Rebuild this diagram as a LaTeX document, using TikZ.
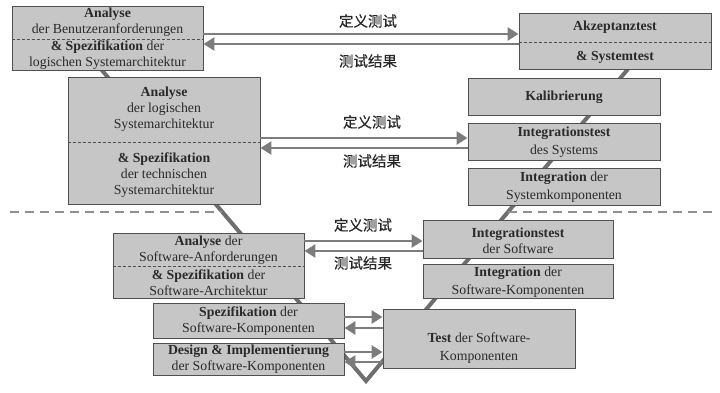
\documentclass[tikz,border=0pt]{standalone}
\usepackage{fontspec}
\setmainfont{Liberation Serif}
\newfontfamily\cjk[FakeBold=0.4]{Noto Sans CJK SC}
\usetikzlibrary{arrows.meta}
\definecolor{boxfill}{HTML}{C6C6C6}
\definecolor{boxline}{HTML}{505050}
\definecolor{arrgray}{HTML}{7C7C7C}
\definecolor{vgray}{HTML}{6E6E6E}
\definecolor{txt}{HTML}{2A2A2A}
\begin{document}
\begin{tikzpicture}[x=1pt,y=-1pt,
  box/.style={draw=boxline, fill=boxfill, line width=0.9pt, inner sep=0pt},
  txtn/.style={text=txt, align=center, font=\fontsize{13.8}{16}\selectfont, inner sep=0pt},
  txtw/.style={text=txt, align=center, font=\fontsize{13.8}{17.5}\selectfont, inner sep=0pt},
  cjkl/.style={text=black!85, font=\cjk\fontsize{14.5}{16}\selectfont, inner sep=0pt},
  arr/.style={draw=arrgray, line width=2.6pt, -{Triangle[length=11pt,width=13pt]}},
  divider/.style={draw=boxline, line width=0.7pt, dash pattern=on 3pt off 2pt},
  sepline/.style={draw=arrgray!85, line width=2.2pt, dash pattern=on 9pt off 6pt},
  vline/.style={draw=vgray, line width=4pt}]
\fill[white] (0,0) rectangle (720,393);
\useasboundingbox (0,0) rectangle (720,393);

% V line and separator
\coordinate (vtl) at (100,68);
\coordinate (vb) at (366,381);
\coordinate (vtr) at (628,69);
\draw[vline] (vtl) -- (vb) -- (vtr);
\coordinate (sl1) at (10,212);
\coordinate (sl2) at (222,212);
\coordinate (sr1) at (508,212);
\coordinate (sr2) at (712,212);
\draw[sepline] (sl1) -- (sl2);
\draw[sepline] (sr1) -- (sr2);

% left boxes
\node[box, minimum width=191, minimum height=64] (b1) at (107.5,38) {};
\draw[divider] (b1.west |- 0,39) -- (b1.east |- 0,39);
\node[txtn] (t1a) at (107.5,22.5) {\textbf{Analyse}\\der Benutzeranforderungen};
\node[txtn] (t1b) at (107.5,55.5) {\textbf{\& Spezifikation} der\\logischen Systemarchitektur};

\node[box, minimum width=192, minimum height=127] (b3) at (164,140.5) {};
\draw[divider] (b3.west |- 0,142) -- (b3.east |- 0,142);
\node[txtn] (t3a) at (164,109) {\textbf{Analyse}\\der logischen\\Systemarchitektur};
\node[txtn] (t3b) at (164,175) {\textbf{\& Spezifikation}\\der technischen\\Systemarchitektur};

\node[box, minimum width=191, minimum height=65] (bsw) at (208.5,265.5) {};
\draw[divider] (bsw.west |- 0,266) -- (bsw.east |- 0,266);
\node[txtn] (tswa) at (208.5,250) {\textbf{Analyse} der\\Software-Anforderungen};
\node[txtn] (tswb) at (208.5,283) {\textbf{\& Spezifikation} der\\Software-Architektur};

\node[box, minimum width=191, minimum height=35] (bsp) at (248.5,320.5) {};
\node[txtn] (tsp) at (248.5,321.5) {\textbf{Spezifikation} der\\Software-Komponenten};
\node[box, minimum width=191, minimum height=32] (bde) at (248.5,359) {};
\node[txtn] (tde) at (248.5,359.5) {\textbf{Design \& Implementierung}\\der Software-Komponenten};

% right boxes
\node[box, minimum width=192, minimum height=56] (b2) at (615,41) {};
\draw[divider] (b2.west |- 0,42) -- (b2.east |- 0,42);
\node[txtn] (t2a) at (615,27) {\textbf{Akzeptanztest}};
\node[txtn] (t2b) at (615,57) {\textbf{\& Systemtest}};

\node[box, minimum width=192, minimum height=37] (bka) at (564,96.5) {};
\node[txtn] (tka) at (564,97) {\textbf{Kalibrierung}};
\node[box, minimum width=192, minimum height=37] (bis) at (564,141.5) {};
\node[txtw] (tis) at (564,142) {\textbf{Integrationstest}\\des Systems};
\node[box, minimum width=192, minimum height=37] (bik) at (564,186.5) {};
\node[txtw] (tik) at (564,187) {\textbf{Integration} der\\Systemkomponenten};

\node[box, minimum width=190, minimum height=38] (bisw) at (518,239) {};
\node[txtn] (tisw) at (518,241) {\textbf{Integrationstest}\\der Software};
\node[box, minimum width=190, minimum height=34] (biswk) at (518,281) {};
\node[txtw] (tiswk) at (518,282) {\textbf{Integration} der\\Software-Komponenten};

\node[box, minimum width=192, minimum height=59] (bte) at (479,338.5) {};
\node[txtw] (tte) at (479,348) {\textbf{Test} der Software-\\Komponenten};

% arrows
\draw[arr] (b1.east |- 0,34) -- (b2.west |- 0,34);
\draw[arr] (b2.west |- 0,44) -- (b1.east |- 0,44);
\draw[arr] (b3.east |- 0,138) -- (bis.west |- 0,138);
\draw[arr] (bis.west |- 0,148) -- (b3.east |- 0,148);
\draw[arr] (bsw.east |- 0,241) -- (bisw.west |- 0,241);
\draw[arr] (bisw.west |- 0,251) -- (bsw.east |- 0,251);
\draw[arr] (bsp.east |- 0,317) -- (bte.west |- 0,317);
\draw[arr] (bte.west |- 0,328) -- (bsp.east |- 0,328);
\draw[arr] (bde.east |- 0,352) -- (bte.west |- 0,352);
\draw[arr] (bte.west |- 0,362) -- (bde.east |- 0,362);

% labels
\node[cjkl] (l1) at (368,21) {定义测试};
\node[cjkl] (l2) at (368,61) {测试结果};
\node[cjkl] (l3) at (372,122) {定义测试};
\node[cjkl] (l4) at (372,161) {测试结果};
\node[cjkl] (l5) at (363,225) {定义测试};
\node[cjkl] (l6) at (363,263) {测试结果};
\end{tikzpicture}
\end{document}
